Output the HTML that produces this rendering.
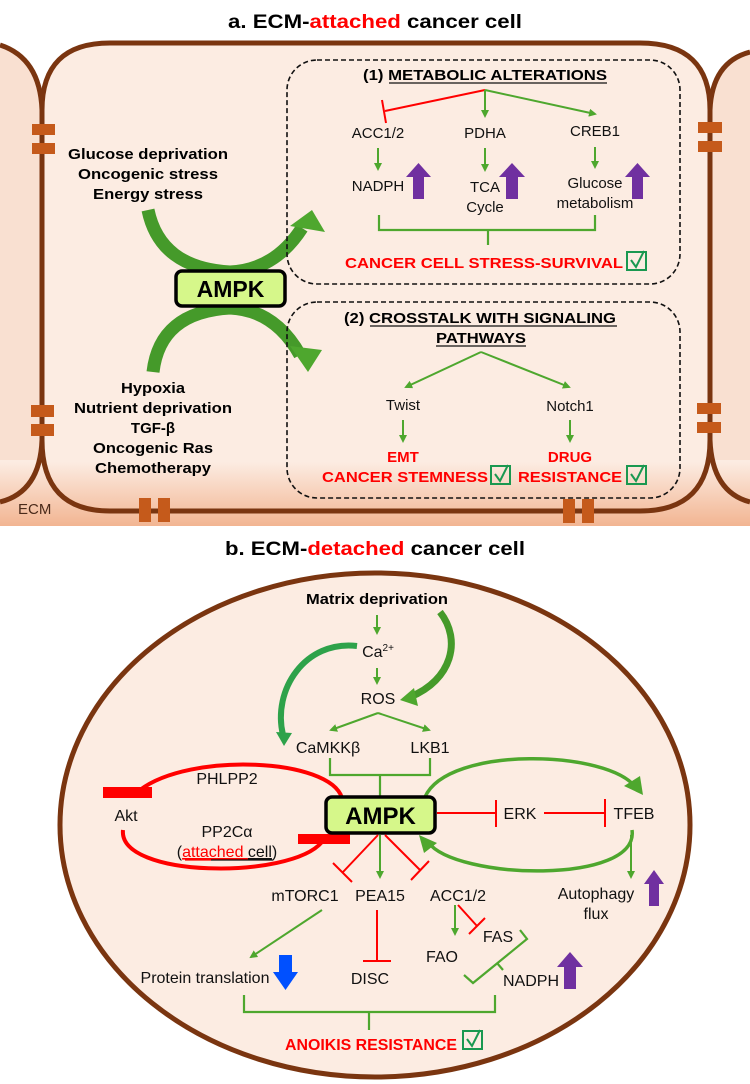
<!DOCTYPE html>
<html><head><meta charset="utf-8"><style>
html,body{margin:0;padding:0;background:#fff}
svg{display:block}
text{font-family:"Liberation Sans",Arial,sans-serif}
</style></head><body>
<svg width="750" height="1084" viewBox="0 0 750 1084" xmlns="http://www.w3.org/2000/svg">
<defs>
<marker id="ga" markerWidth="8" markerHeight="8" refX="6" refY="4" orient="auto" markerUnits="userSpaceOnUse"><path d="M0,0 L8,4 L0,8 Z" fill="#4ea72e"/></marker>
<linearGradient id="ecm" x1="0" y1="0" x2="0" y2="1"><stop offset="0" stop-color="#fcece2"/><stop offset="1" stop-color="#f2b592"/></linearGradient>
</defs>
<!-- top panel background -->
<rect x="0" y="40" width="750" height="486" fill="#fcece2"/>
<rect x="0" y="462" width="750" height="64" fill="url(#ecm)"/>
<rect x="0" y="40" width="42" height="420" fill="#f9e0d1"/>
<rect x="710" y="40" width="40" height="420" fill="#f9e0d1"/>
<path d="M0 0 L750 0 L750 50 Q712 62 710 110 Q708 43 640 43 L110 43 Q44 43 42 110 Q40 58 0 45 Z" fill="#fff"/>
<text x="375" y="28" font-size="19" font-weight="bold" text-anchor="middle" textLength="294" lengthAdjust="spacingAndGlyphs">a. ECM-<tspan fill="#ff0000">attached</tspan> cancer cell</text>
<g fill="none" stroke="#7a3510" stroke-width="5">
<path d="M42 110 Q42 43 110 43 L640 43 Q710 43 710 110 L710 440 Q710 511 640 511 L110 511 Q42 511 42 440 Z"/>
<path d="M0 45 Q40 58 42 110 M42 440 Q40 492 0 502 M750 52 Q712 62 710 110 M710 440 Q712 492 750 502"/>
</g>
<g fill="#c55a1b">
<rect x="32" y="124" width="23" height="11"/><rect x="32" y="143" width="23" height="11"/>
<rect x="31" y="405" width="23" height="12"/><rect x="31" y="424" width="23" height="12"/>
<rect x="698" y="122" width="24" height="11"/><rect x="698" y="141" width="24" height="11"/>
<rect x="697" y="403" width="24" height="11"/><rect x="697" y="422" width="24" height="11"/>
<rect x="139" y="498" width="12" height="24"/><rect x="158" y="498" width="12" height="24"/>
<rect x="563" y="499" width="12" height="24"/><rect x="582" y="499" width="12" height="24"/>
</g>
<text x="18" y="514" font-size="15" fill="#4a2a1a">ECM</text>
<!-- left texts -->
<g font-size="15" font-weight="bold" text-anchor="middle">
<text x="148" y="159" textLength="160" lengthAdjust="spacingAndGlyphs">Glucose deprivation</text>
<text x="148" y="179" textLength="140" lengthAdjust="spacingAndGlyphs">Oncogenic stress</text>
<text x="148" y="199" textLength="110" lengthAdjust="spacingAndGlyphs">Energy stress</text>
<text x="153" y="393" textLength="64" lengthAdjust="spacingAndGlyphs">Hypoxia</text>
<text x="153" y="413" textLength="158" lengthAdjust="spacingAndGlyphs">Nutrient deprivation</text>
<text x="153" y="433">TGF-β</text>
<text x="153" y="453" textLength="120" lengthAdjust="spacingAndGlyphs">Oncogenic Ras</text>
<text x="153" y="473" textLength="116" lengthAdjust="spacingAndGlyphs">Chemotherapy</text>
</g>
<!-- thick crossing arrows -->
<g fill="none" stroke="#459a2a" stroke-linecap="butt">
<path d="M148 210 Q160 268 230 272 Q275 270 302 228" stroke-width="13"/>
<path d="M153 372 Q160 312 230 308 Q275 310 300 355" stroke-width="13"/>
</g>
<polygon points="312,210 325,232 290,226" fill="#4ea72e"/>
<polygon points="308,372 290,346 322,350" fill="#4ea72e"/>
<rect x="176" y="271" width="109" height="35" rx="6" fill="#d6f78a" stroke="#000" stroke-width="3.5"/>
<text x="230.5" y="297" font-size="23" font-weight="bold" text-anchor="middle">AMPK</text>
<!-- dashed boxes -->
<g fill="none" stroke="#111" stroke-width="1.6" stroke-dasharray="5,3">
<rect x="287" y="60" width="393" height="224" rx="30"/>
<rect x="287" y="302" width="393" height="196" rx="30"/>
</g>
<g font-size="15" font-weight="bold" text-anchor="middle">
<text x="485" y="80" textLength="244" lengthAdjust="spacingAndGlyphs">(1) METABOLIC ALTERATIONS</text>
<text x="480" y="323" textLength="272" lengthAdjust="spacingAndGlyphs">(2) CROSSTALK WITH SIGNALING</text>
<text x="481" y="343" textLength="90" lengthAdjust="spacingAndGlyphs">PATHWAYS</text>
</g>
<g stroke="#111" stroke-width="1.2"><line x1="389" y1="83" x2="607" y2="83"/><line x1="370" y1="326" x2="617" y2="326"/><line x1="436" y1="346" x2="526" y2="346"/></g>
<!-- box1 connectors -->
<line x1="485" y1="90" x2="385" y2="111" stroke="#ff0000" stroke-width="2"/>
<line x1="382" y1="100" x2="386" y2="123" stroke="#ff0000" stroke-width="2"/>
<g stroke="#4ea72e" stroke-width="2" fill="none" marker-end="url(#ga)">
<line x1="485" y1="90" x2="485" y2="116"/>
<line x1="485" y1="90" x2="595" y2="114"/>
<line x1="378" y1="148" x2="378" y2="169"/>
<line x1="485" y1="148" x2="485" y2="170"/>
<line x1="595" y1="147" x2="595" y2="167"/>
<line x1="481" y1="352" x2="406" y2="387"/>
<line x1="481" y1="352" x2="569" y2="387"/>
<line x1="403" y1="420" x2="403" y2="441"/>
<line x1="570" y1="420" x2="570" y2="441"/>
</g>
<path d="M379 215 L379 230 L595 230 L595 215 M488 230 L488 245" stroke="#4ea72e" stroke-width="2.2" fill="none"/>
<g font-size="15" text-anchor="middle" fill="#111">
<text x="378" y="138">ACC1/2</text><text x="485" y="138">PDHA</text><text x="595" y="136">CREB1</text>
<text x="378" y="191">NADPH</text><text x="485" y="192">TCA</text><text x="485" y="212">Cycle</text>
<text x="595" y="188">Glucose</text><text x="595" y="208">metabolism</text>
<text x="403" y="410">Twist</text><text x="570" y="411">Notch1</text>
</g>
<g fill="#7030a0">
<polygon points="418.5,163 431,177 424,177 424,199 413,199 413,177 406,177"/>
<polygon points="512,163 525,177 518,177 518,199 506,199 506,177 499,177"/>
<polygon points="637.5,163 650,177 643,177 643,199 632,199 632,177 625,177"/>
</g>
<g font-size="15" font-weight="bold" fill="#ff0000" text-anchor="middle">
<text x="484" y="268" textLength="278" lengthAdjust="spacingAndGlyphs">CANCER CELL STRESS-SURVIVAL</text>
<text x="403" y="462">EMT</text>
<text x="405" y="482" textLength="166" lengthAdjust="spacingAndGlyphs">CANCER STEMNESS</text>
<text x="570" y="462">DRUG</text>
<text x="570" y="482" textLength="104" lengthAdjust="spacingAndGlyphs">RESISTANCE</text>
</g>
<g fill="none" stroke="#1a9850" stroke-width="2">
<rect x="627" y="252" width="19" height="18"/><path d="M631 260 L636 267 L644 251"/>
<rect x="491" y="466" width="19" height="18"/><path d="M495 474 L500 481 L508 465"/>
<rect x="627" y="466" width="19" height="18"/><path d="M631 474 L636 481 L644 465"/>
</g>

<!-- bottom panel -->
<text x="375" y="555" font-size="19" font-weight="bold" text-anchor="middle" textLength="300" lengthAdjust="spacingAndGlyphs">b. ECM-<tspan fill="#ff0000">detached</tspan> cancer cell</text>
<ellipse cx="375" cy="825" rx="315" ry="252" fill="#fcece2" stroke="#7a3510" stroke-width="5"/>
<text x="377" y="604" font-size="15" font-weight="bold" text-anchor="middle" textLength="142" lengthAdjust="spacingAndGlyphs">Matrix deprivation</text>
<g stroke="#4ea72e" stroke-width="2" fill="none" marker-end="url(#ga)">
<line x1="377" y1="615" x2="377" y2="633"/>
<line x1="377" y1="668" x2="377" y2="683"/>
<line x1="378" y1="713" x2="331" y2="730"/>
<line x1="378" y1="713" x2="429" y2="730"/>
<line x1="380" y1="835" x2="380" y2="877"/>
<line x1="631" y1="835" x2="631" y2="877"/>
<line x1="322" y1="910" x2="251" y2="957"/>
<line x1="455" y1="905" x2="455" y2="934"/>
</g>
<!-- thick curves top -->
<path d="M440 612 C 462 640, 452 680, 410 697" stroke="#459a2a" stroke-width="7" fill="none"/>
<polygon points="400,700 414,688 418,706" fill="#4ea72e"/>
<path d="M357 646 C 305 640, 272 690, 283 735" stroke="#2ea24a" stroke-width="6" fill="none"/>
<polygon points="284,746 276,732 292,733" fill="#2ea24a"/>
<g font-size="16" text-anchor="middle" fill="#111">
<text x="378" y="657">Ca<tspan font-size="10" dy="-6">2+</tspan></text>
<text x="378" y="704">ROS</text>
<text x="328" y="753">CaMKKβ</text><text x="430" y="753">LKB1</text>
<text x="126" y="821">Akt</text>
<text x="227" y="784">PHLPP2</text>
<text x="227" y="837">PP2Cα</text>
<text x="227" y="857">(<tspan fill="#ff0000" text-decoration="underline">attached </tspan><tspan text-decoration="underline">cell</tspan>)</text>
<text x="520" y="819">ERK</text><text x="634" y="819">TFEB</text>
<text x="305" y="901">mTORC1</text><text x="380" y="901">PEA15</text><text x="458" y="901">ACC1/2</text>
<text x="596" y="899">Autophagy</text><text x="596" y="919">flux</text>
<text x="498" y="942">FAS</text><text x="442" y="962">FAO</text>
<text x="205" y="983">Protein translation</text>
<text x="370" y="984">DISC</text>
<text x="531" y="986">NADPH</text>
</g>
<line x1="185" y1="860" x2="211" y2="860" stroke="#ff0000" stroke-width="1.2"/>
<line x1="211" y1="860" x2="273" y2="860" stroke="#111" stroke-width="1.2"/>
<path d="M330 758 L330 775 L430 775 L430 758 M380 775 L380 796" stroke="#4ea72e" stroke-width="2.2" fill="none"/>
<!-- red loop -->
<path d="M342 798 C 330 758, 190 752, 140 790" stroke="#ff0000" stroke-width="4" fill="none"/>
<path d="M123 830 C 118 878, 290 880, 322 842" stroke="#ff0000" stroke-width="4" fill="none"/>
<rect x="103" y="787" width="49" height="11" fill="#ff0000"/>
<rect x="298" y="834" width="52" height="10" fill="#ff0000"/>
<!-- green loop -->
<path d="M425 797 C 448 745, 610 750, 636 788" stroke="#4ea72e" stroke-width="3.5" fill="none"/>
<polygon points="643,795 624,786 640,776" fill="#4ea72e"/>
<path d="M632 830 C 640 885, 455 880, 428 842" stroke="#4ea72e" stroke-width="3.5" fill="none"/>
<polygon points="419,835 437,843 424,853" fill="#4ea72e"/>
<rect x="326" y="797" width="109" height="36" rx="6" fill="#d6f78a" stroke="#000" stroke-width="3.5"/>
<text x="380.5" y="824" font-size="24" font-weight="bold" text-anchor="middle">AMPK</text>
<!-- red inhibition -->
<g stroke="#ff0000" stroke-width="2" fill="none">
<path d="M437 813 L496 813 M496 800 L496 827"/>
<path d="M544 813 L605 813 M605 799 L605 827"/>
<path d="M378 835 L343 872 M333 863 L352 882"/>
<path d="M385 835 L420 870 M411 880 L429 861"/>
<path d="M377 910 L377 961 M363 961 L391 961"/>
<path d="M458 905 L477 926 M469 934 L485 918"/>
</g>
<path d="M520 930 L527 939 L473 983 L464 975 M497 963 L503 970" stroke="#4ea72e" stroke-width="2.2" fill="none"/>
<g fill="#7030a0">
<polygon points="654,870 664,884 659,884 659,906 649,906 649,884 644,884"/>
<polygon points="570,952 583,967 576,967 576,989 564,989 564,967 557,967"/>
</g>
<polygon points="279,955 292,955 292,972 298,972 285.5,990 273,972 279,972" fill="#0050ff"/>
<path d="M244 995 L244 1012 L495 1012 L495 995 M369 1012 L369 1030" stroke="#4ea72e" stroke-width="2.2" fill="none"/>
<text x="371" y="1050" font-size="16" font-weight="bold" fill="#ff0000" text-anchor="middle" textLength="172" lengthAdjust="spacingAndGlyphs">ANOIKIS RESISTANCE</text>
<g fill="none" stroke="#1a9850" stroke-width="2">
<rect x="463" y="1031" width="19" height="18"/><path d="M467 1039 L472 1046 L480 1030"/>
</g>
</svg>
</body></html>
